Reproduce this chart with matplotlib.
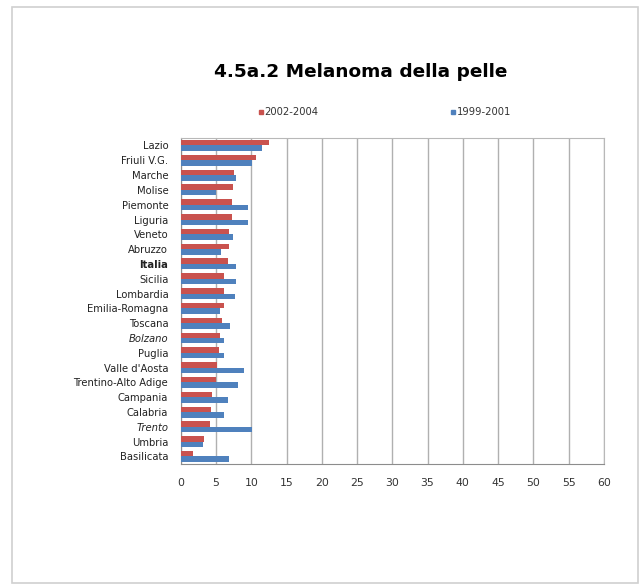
import matplotlib
matplotlib.use("Agg")
import matplotlib.pyplot as plt
import numpy as np
from matplotlib.patches import Rectangle
from matplotlib.lines import Line2D

# regions, top to bottom as in the chart
regioni = ['Lazio', 'Friuli V.G.', 'Marche', 'Molise', 'Piemonte', 'Liguria',
           'Veneto', 'Abruzzo', 'Italia', 'Sicilia', 'Lombardia', 'Emilia-Romagna',
           'Toscana', 'Bolzano', 'Puglia', "Valle d'Aosta", 'Trentino-Alto Adige',
           'Campania', 'Calabria', 'Trento', 'Umbria', 'Basilicata']
v_2002_2004 = [12.5, 10.6, 7.5, 7.4, 7.2, 7.2, 6.8, 6.8, 6.7, 6.1, 6.1, 6.1,
               5.8, 5.5, 5.4, 5.1, 5.0, 4.5, 4.3, 4.1, 3.3, 1.7]
v_1999_2001 = [11.5, 10.1, 7.9, 5.0, 9.5, 9.5, 7.4, 5.7, 7.9, 7.9, 7.7, 5.5,
               7.0, 6.2, 6.2, 8.9, 8.1, 6.7, 6.1, 10.1, 3.1, 6.8]
xticks = list(range(0, 61, 5))

red = '#c9524e'
blue = '#4f81bd'

fig = plt.figure(figsize=(6.41, 5.85), dpi=100)
ax = fig.add_axes([0.282, 0.207, 0.66, 0.557])

y = np.arange(len(regioni))[::-1]
h = 0.37
ax.barh(y + h / 2, v_2002_2004, height=h, color=red, zorder=3)
ax.barh(y - h / 2, v_1999_2001, height=h, color=blue, zorder=3)

ax.set_xlim(0, 60)
ax.set_ylim(-0.5, len(regioni) - 0.5)
ax.set_xticks(xticks)
ax.set_xticklabels([str(t) for t in xticks], fontsize=7.8, color='#333333')
ax.set_yticks(y)
ax.set_yticklabels(regioni, fontsize=7.2, color='#222222')
for lab in ax.get_yticklabels():
    if lab.get_text() in ('Bolzano', 'Trento'):
        lab.set_style('italic')
    if lab.get_text() == 'Italia':
        lab.set_weight('bold')
ax.tick_params(axis='y', length=0, pad=9)
ax.tick_params(axis='x', length=0, pad=10)
ax.grid(axis='x', color='#b0b0b0', lw=1, zorder=1)
for s in ax.spines.values():
    s.set_color('#b8b8b8')
ax.spines['left'].set_color('#8c8c8c')
ax.spines['bottom'].set_color('#8c8c8c')

fig.text(0.562, 0.877, '4.5a.2 Melanoma della pelle', fontsize=13.3,
         fontweight='bold', ha='center', va='center')

# legend drawn as markers + text
fig.add_artist(Line2D([0.407], [0.809], marker='s', ms=3, color=red,
                      transform=fig.transFigure))
fig.text(0.413, 0.809, '2002-2004', fontsize=7.2, va='center', color='#333333')
fig.add_artist(Line2D([0.706], [0.809], marker='s', ms=3, color=blue,
                      transform=fig.transFigure))
fig.text(0.712, 0.809, '1999-2001', fontsize=7.2, va='center', color='#333333')

fig.add_artist(Rectangle((12 / 641, 2 / 585), 626 / 641, 576 / 585,
                         transform=fig.transFigure, fill=False,
                         edgecolor='#d0d0d0', lw=1.2))

fig.savefig('out.png', dpi=100)
